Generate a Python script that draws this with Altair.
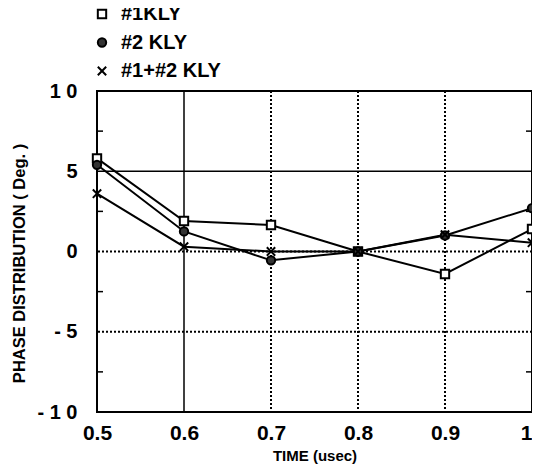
import altair as alt
import pandas as pd

time = [0.5, 0.6, 0.7, 0.8, 0.9, 1.0]
kly1 = [5.8, 1.9, 1.65, 0.0, -1.4, 1.4]
kly2 = [5.4, 1.25, -0.55, 0.0, 1.0, 2.7]
kly12 = [3.6, 0.3, 0.0, 0.0, 1.05, 0.55]
series = ["#1KLY", "#2 KLY", "#1+#2  KLY"]

x_grid_solid = [0.6]
x_grid_dot = [0.7, 0.8, 0.9]
y_grid_solid = [5]
y_grid_dot = [0, -5]
y_minor = [-7.5, -2.5, 2.5, 7.5]

rows = []
for s, vals in zip(series, [kly1, kly2, kly12]):
    for t, v in zip(time, vals):
        rows.append({"time": t, "phase": v, "series": s})
df = pd.DataFrame(rows)

FONT = "Liberation Sans"
W, H = 435, 321
xs = alt.Scale(domain=[0.5, 1.0], nice=False)
ys = alt.Scale(domain=[-10, 10], nice=False)

xaxis = alt.Axis(values=time, labelExpr="datum.value == 1 ? '1' : format(datum.value, '.1f')",
                 grid=False, ticks=False, domain=False, labelFontSize=21, labelFont=FONT,
                 labelFontWeight="bold", labelPadding=10, labelColor="black", labelFlush=False,
                 labelOverlap=False, labelBound=False,
                 labelAlign={"condition": {"test": "datum.value == 1", "value": "right"}, "value": "center"},
                 title="TIME (usec)", titleFont=FONT, titleFontSize=15, titleFontWeight="bold",
                 titlePadding=5, titleColor="black")
yaxis = alt.Axis(values=[-10, -5, 0, 5, 10],
                 labelExpr="datum.value == 10 ? '1 0' : datum.value == 5 ? '5' : datum.value == 0 ? '0' : datum.value == -5 ? '- 5' : '- 1 0'",
                 grid=False, ticks=False, domain=False, labelFontSize=20, labelFont=FONT,
                 labelFontWeight="bold", labelPadding=20, labelColor="black", labelFlush=False,
                 labelOverlap=False, labelBound=False,
                 title="PHASE DISTRIBUTION ( Deg. )", titleFont=FONT, titleFontSize=16.5,
                 titleFontWeight="bold", titleColor="black", titleX=-70, titleY=172)

X = alt.X("time:Q", scale=xs, axis=xaxis)
Y = alt.Y("phase:Q", scale=ys, axis=yaxis)

vsolid = alt.Chart(pd.DataFrame({"time": x_grid_solid})).mark_rule(color="black", strokeWidth=1.5).encode(x=X)
vdot = alt.Chart(pd.DataFrame({"time": x_grid_dot})).mark_rule(color="black", strokeWidth=2, strokeDash=[2, 2]).encode(x=X)
hsolid = alt.Chart(pd.DataFrame({"phase": y_grid_solid})).mark_rule(color="black", strokeWidth=1.5).encode(y=Y)
hdot = alt.Chart(pd.DataFrame({"phase": y_grid_dot})).mark_rule(color="black", strokeWidth=2, strokeDash=[2, 2]).encode(y=Y)
minor_l = alt.Chart(pd.DataFrame({"phase": y_minor})).mark_rule(color="black", strokeWidth=1.5).encode(
    y=Y, x=alt.value(0), x2=alt.value(6))
minor_r = alt.Chart(pd.DataFrame({"phase": y_minor})).mark_rule(color="black", strokeWidth=1.5).encode(
    y=Y, x=alt.value(W - 6), x2=alt.value(W))

lines = alt.Chart(df).mark_line(color="black", strokeWidth=2).encode(x=X, y=Y, detail="series:N")

xpath = "M-1,-1L1,1M-1,1L1,-1"
shapes = ["square", "circle", xpath]
fills = ["white", "#333333", "transparent"]

pt_layers = []
leg_layers = []
for i, s in enumerate(series):
    sub = df[df.series == s]
    pt_layers.append(
        alt.Chart(sub).mark_point(shape=shapes[i], size=70, strokeWidth=2, stroke="black",
                                  fill=fills[i], filled=True, opacity=1, strokeOpacity=1, fillOpacity=1)
        .encode(x=X, y=Y)
    )
    ly = -77 + i * 28.5
    leg_layers.append(
        alt.Chart(pd.DataFrame({"series": [s]})).mark_point(shape=shapes[i], size=70, strokeWidth=2,
                                                             stroke="black", fill=fills[i], filled=True,
                                                             opacity=1, strokeOpacity=1, fillOpacity=1)
        .encode(x=alt.value(5), y=alt.value(ly))
    )
    leg_layers.append(
        alt.Chart(pd.DataFrame({"series": [s]})).mark_text(align="left", baseline="middle", font=FONT,
                                                            fontSize=20, fontWeight="bold", color="black")
        .encode(x=alt.value(24), y=alt.value(ly), text="series:N")
    )

chart = alt.layer(vsolid, vdot, hsolid, hdot, minor_l, minor_r, lines, *pt_layers, *leg_layers).properties(
    width=W, height=H,
    background="white",
    autosize=alt.AutoSizeParams(type="none"),
    padding={"left": 89, "top": 83, "right": 0, "bottom": 55},
).configure_view(stroke="black", strokeWidth=2)

chart.save("out.html", embed_options={"renderer": "svg", "actions": False})
